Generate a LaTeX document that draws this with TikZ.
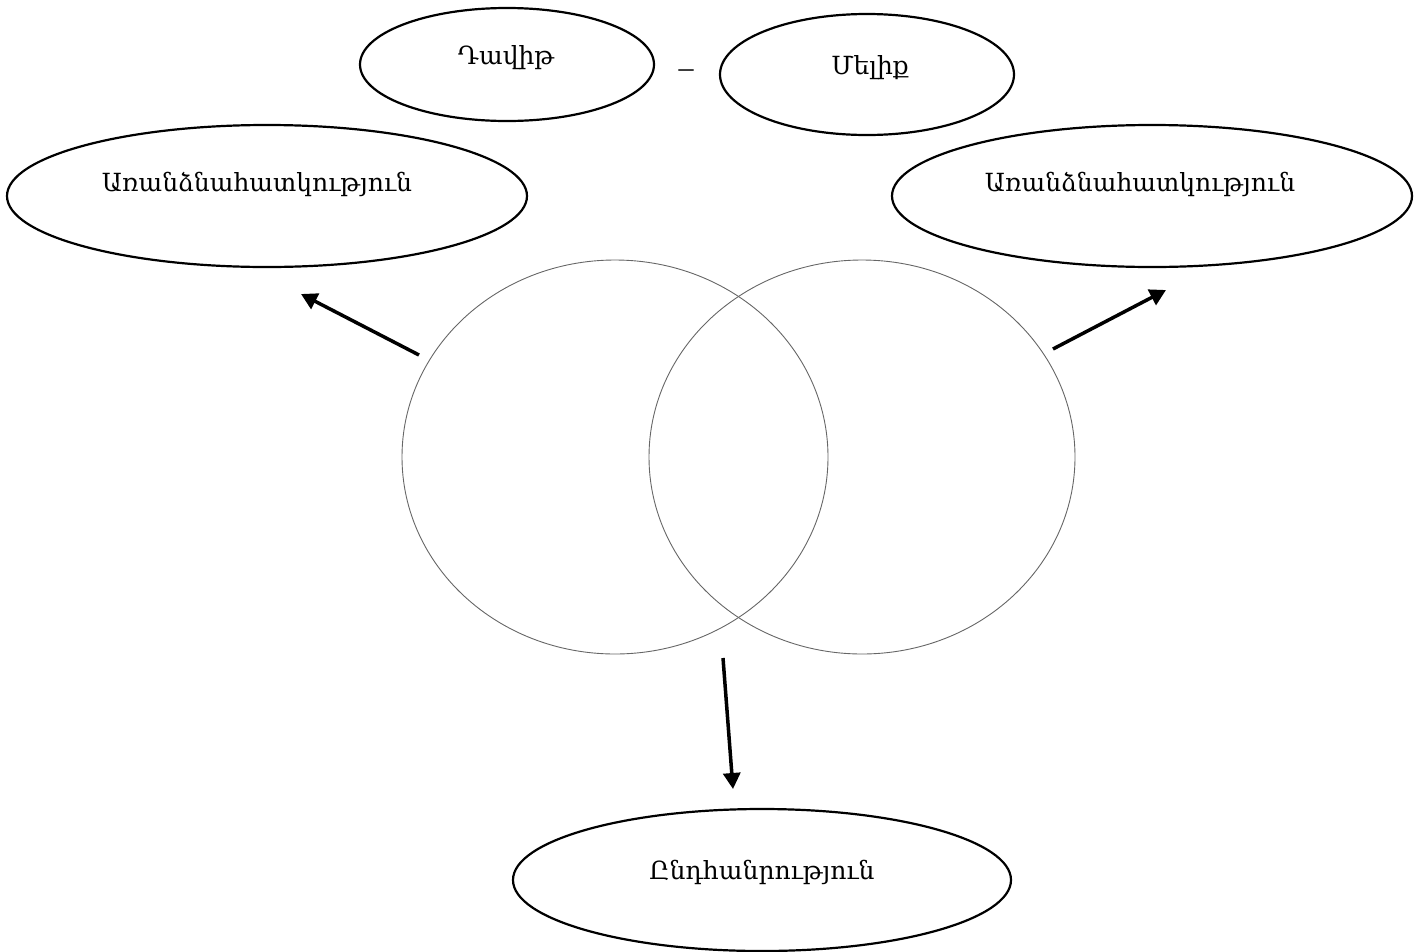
\documentclass[tikz,border=0pt]{standalone}
\usepackage{fontspec}
\setmainfont{DejaVu Serif}
\newfontfamily\dashfont{Liberation Serif}
\usetikzlibrary{shapes.geometric,arrows.meta}
\begin{document}
\begin{tikzpicture}[x=1pt,y=-1pt,
  oval/.style={draw=black,line width=2.2pt},
  venn/.style={draw=black!60,line width=0.9pt},
  arr/.style={line width=3.5pt,-{Triangle[length=16pt,width=17pt]}},
  lbl/.style={font=\fontsize{25}{30}\selectfont}]
\useasboundingbox (0,0) rectangle (1422,951);
% ovals
\draw[oval] (507,64.5) ellipse [x radius=147,y radius=56.5];
\draw[oval] (867,74.5) ellipse [x radius=147,y radius=60.5];
\draw[oval] (267,196) ellipse [x radius=260,y radius=71];
\draw[oval] (1152,196) ellipse [x radius=260,y radius=71];
\draw[oval] (762,880) ellipse [x radius=249,y radius=71];
\node[lbl] (davit) at (506,58) {Դավիթ};
\node[lbl] (melik) at (870,68) {Մելիք};
\node[font=\dashfont\fontsize{30}{34}\selectfont] (dash) at (686,74) {–};
\node[lbl] (sepL) at (257,184) {Առանձնահատկություն};
\node[lbl] (sepR) at (1140,184) {Առանձնահատկություն};
\node[lbl] (common) at (762,872) {Ընդհանրություն};
% venn
\draw[venn] (615,457) ellipse [x radius=213,y radius=197];
\draw[venn] (862,457) ellipse [x radius=213,y radius=197];
% arrows
\coordinate (a1s) at (419,355); \coordinate (a1e) at (301,294);
\coordinate (a2s) at (1053,349); \coordinate (a2e) at (1166,290);
\coordinate (a3s) at (723,658); \coordinate (a3e) at (733,789);
\draw[arr] (a1s) -- (a1e);
\draw[arr] (a2s) -- (a2e);
\draw[arr] (a3s) -- (a3e);
\end{tikzpicture}
\end{document}
